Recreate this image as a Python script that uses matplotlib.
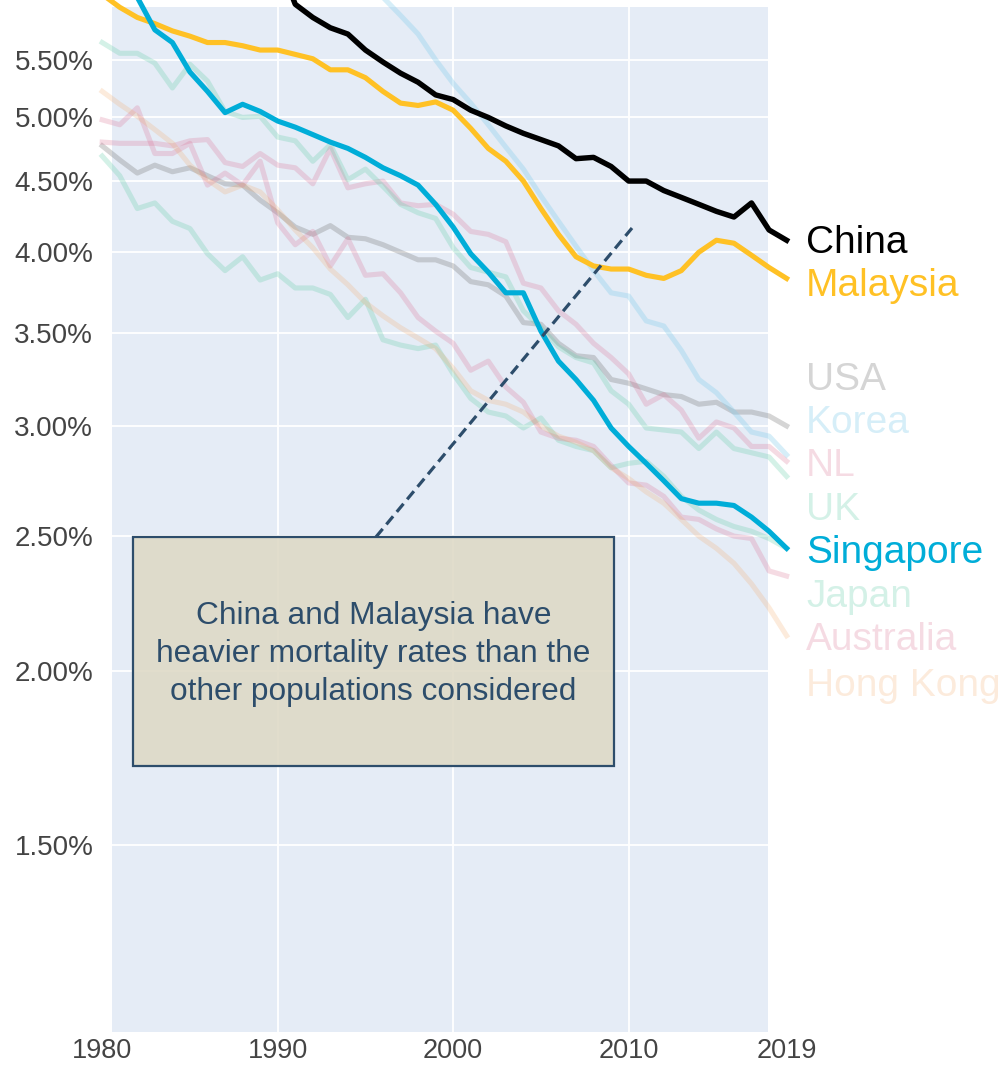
import matplotlib
matplotlib.use("Agg")
import matplotlib.pyplot as plt
from matplotlib.ticker import FixedLocator, NullLocator, NullFormatter, FixedFormatter
from matplotlib.patches import Rectangle

# ---------------- data (mortality rate, %) ----------------
years = list(range(1980, 2020))

china = [7.90, 7.75, 7.60, 7.45, 7.30, 7.20, 7.10, 6.95, 6.85, 6.70,
         6.50, 6.03, 5.90, 5.80, 5.74, 5.59, 5.48, 5.38, 5.30, 5.19,
         5.15, 5.06, 5.00, 4.93, 4.87, 4.82, 4.77, 4.67, 4.68, 4.61,
         4.50, 4.50, 4.43, 4.38, 4.33, 4.28, 4.24, 4.34, 4.15, 4.08]

malaysia = [6.13, 6.00, 5.90, 5.84, 5.77, 5.72, 5.66, 5.66, 5.63, 5.59,
            5.59, 5.55, 5.51, 5.41, 5.41, 5.34, 5.22, 5.12, 5.10, 5.13,
            5.06, 4.91, 4.75, 4.65, 4.50, 4.30, 4.12, 3.97, 3.91, 3.89,
            3.89, 3.85, 3.83, 3.88, 4.00, 4.08, 4.06, 3.98, 3.90, 3.83]

usa = [4.77, 4.66, 4.56, 4.62, 4.57, 4.60, 4.54, 4.48, 4.47, 4.36,
       4.27, 4.17, 4.12, 4.18, 4.10, 4.09, 4.05, 4.00, 3.95, 3.95,
       3.91, 3.81, 3.79, 3.72, 3.56, 3.55, 3.44, 3.37, 3.36, 3.24,
       3.22, 3.19, 3.16, 3.15, 3.11, 3.12, 3.07, 3.07, 3.05, 3.00]

korea = [9.50, 9.30, 9.10, 8.90, 8.70, 8.50, 8.30, 8.10, 7.90, 7.70,
         7.50, 7.30, 7.10, 6.90, 6.70, 6.45, 6.10, 5.92, 5.74, 5.50,
         5.29, 5.12, 4.94, 4.76, 4.59, 4.39, 4.21, 4.04, 3.88, 3.74,
         3.72, 3.57, 3.54, 3.40, 3.24, 3.17, 3.07, 2.97, 2.95, 2.86]

nl = [4.80, 4.79, 4.79, 4.79, 4.77, 4.81, 4.82, 4.64, 4.61, 4.71,
      4.62, 4.60, 4.48, 4.75, 4.45, 4.48, 4.50, 4.34, 4.32, 4.33,
      4.26, 4.14, 4.12, 4.07, 3.80, 3.77, 3.63, 3.55, 3.44, 3.36,
      3.27, 3.11, 3.16, 3.08, 2.94, 3.02, 2.99, 2.90, 2.90, 2.83]

uk = [5.66, 5.56, 5.56, 5.47, 5.25, 5.46, 5.31, 5.05, 5.00, 5.01,
      4.84, 4.81, 4.65, 4.78, 4.51, 4.59, 4.46, 4.33, 4.27, 4.23,
      4.03, 3.90, 3.87, 3.84, 3.63, 3.53, 3.42, 3.36, 3.33, 3.18,
      3.11, 2.99, 2.98, 2.97, 2.89, 2.97, 2.89, 2.87, 2.85, 2.76]

singapore = [6.90, 6.50, 6.10, 5.78, 5.66, 5.39, 5.22, 5.04, 5.11, 5.05,
             4.97, 4.92, 4.86, 4.80, 4.75, 4.68, 4.60, 4.54, 4.47, 4.33,
             4.17, 3.99, 3.87, 3.74, 3.74, 3.51, 3.34, 3.24, 3.13, 2.99,
             2.90, 2.82, 2.74, 2.66, 2.64, 2.64, 2.63, 2.58, 2.52, 2.45]

japan = [4.69, 4.54, 4.30, 4.34, 4.21, 4.16, 3.99, 3.88, 3.97, 3.82,
         3.86, 3.77, 3.77, 3.73, 3.59, 3.70, 3.46, 3.43, 3.41, 3.43,
         3.27, 3.14, 3.07, 3.05, 2.99, 3.04, 2.93, 2.90, 2.88, 2.80,
         2.82, 2.83, 2.76, 2.67, 2.61, 2.57, 2.54, 2.52, 2.49, 2.45]

australia = [4.98, 4.94, 5.08, 4.71, 4.71, 4.79, 4.47, 4.56, 4.47, 4.65,
             4.20, 4.05, 4.14, 3.91, 4.09, 3.85, 3.86, 3.74, 3.59, 3.51,
             3.44, 3.29, 3.34, 3.20, 3.12, 2.97, 2.94, 2.93, 2.90, 2.81,
             2.73, 2.72, 2.67, 2.58, 2.57, 2.53, 2.50, 2.49, 2.36, 2.34]

hong_kong = [5.22, 5.11, 5.01, 4.90, 4.79, 4.62, 4.51, 4.42, 4.47, 4.42,
             4.29, 4.15, 4.03, 3.89, 3.79, 3.68, 3.60, 3.53, 3.47, 3.41,
             3.30, 3.18, 3.13, 3.11, 3.07, 3.00, 2.95, 2.92, 2.88, 2.80,
             2.75, 2.69, 2.64, 2.57, 2.50, 2.45, 2.39, 2.31, 2.22, 2.12]

ytick_vals = [1.5, 2.0, 2.5, 3.0, 3.5, 4.0, 4.5, 5.0, 5.5]
ytick_labels = ["1.50%", "2.00%", "2.50%", "3.00%", "3.50%",
                "4.00%", "4.50%", "5.00%", "5.50%"]
xtick_years = [1980, 1990, 2000, 2010, 2019]
xgrid_years = [1990, 2000, 2010]

annotation = ("China and Malaysia have\nheavier mortality rates than the\n"
              "other populations considered")

# ---------------- styling ----------------
plt.rcParams['font.family'] = ['Liberation Sans', 'DejaVu Sans']

W, H = 1005, 1071
fig = plt.figure(figsize=(W / 100, H / 100), dpi=100)
ax_l, ax_r, ax_t, ax_b = 112, 768, 7.3, 1032
ax = fig.add_axes([ax_l / W, 1 - ax_b / H, (ax_r - ax_l) / W, (ax_b - ax_t) / H])
ax.set_facecolor('#E5ECF6')
ax.set_yscale('log')
ax.set_xlim(1980.558, 2017.94)
ax.set_ylim(1.1, 6.0)
for s in ax.spines.values():
    s.set_visible(False)

ax.yaxis.set_major_locator(FixedLocator(ytick_vals))
ax.yaxis.set_major_formatter(FixedFormatter(ytick_labels))
ax.yaxis.set_minor_locator(NullLocator())
ax.yaxis.set_minor_formatter(NullFormatter())
ax.xaxis.set_major_locator(FixedLocator(xgrid_years))
ax.xaxis.set_major_formatter(NullFormatter())
ax.tick_params(length=0)
ax.tick_params(axis='y', labelsize=20, labelcolor='#444444', pad=13.5)
ax.grid(True, color='white', linewidth=1.3)
ax.set_axisbelow(True)

for yr in xtick_years:
    ax.text(yr, -0.006, str(yr), transform=ax.get_xaxis_transform(),
            ha='center', va='top', fontsize=19.5, color='#444444', clip_on=False)

# series: (name, values, color, alpha, label y px)
faded = [
    ("USA", usa, '#808080', 0.33, 380),
    ("Korea", korea, '#87CEEB', 0.34, 423),
    ("NL", nl, '#DB7093', 0.25, 466),
    ("UK", uk, '#66CDAA', 0.28, 510),
    ("Japan", japan, '#66CDAA', 0.28, 597),
    ("Australia", australia, '#DB7093', 0.25, 640),
    ("Hong Kong", hong_kong, '#F4A460', 0.22, 686),
]
for name, vals, col, a, ly in faded:
    ax.plot(years, vals, color=col, alpha=a, lw=3.7, clip_on=False, zorder=2)
    fig.text(806 / W, 1 - ly / H, name, color=col, alpha=a, fontsize=28,
             ha='left', va='center')

bold = [
    ("Malaysia", malaysia, '#FFC125', 3.7, 286),
    ("Singapore", singapore, '#00ADD8', 3.7, 553),
    ("China", china, '#000000', 3.9, 243),
]
for name, vals, col, lw, ly in bold:
    ax.plot(years, vals, color=col, lw=lw, clip_on=False, zorder=3)
    fig.text(806 / W, 1 - ly / H, name, color=col, fontsize=28,
             ha='left', va='center')

# annotation box + dashed pointer
box_col = '#2D4D6B'
ax.add_patch(Rectangle((0.032, 0.2596), 0.733, 0.2235, transform=ax.transAxes,
                       facecolor=(222 / 255, 217 / 255, 197 / 255, 0.88),
                       edgecolor=box_col, linewidth=1.6, zorder=5))
ax.plot([0.4024, 0.7927], [0.4831, 0.7846], transform=ax.transAxes,
        color=box_col, lw=2.3, ls=(0, (3.3, 1.8)), zorder=6)
ax.text(0.3986, 0.3690, annotation, transform=ax.transAxes, ha='center',
        va='center', fontsize=22.8, color=box_col, linespacing=1.36, zorder=7)

fig.savefig('out.png', dpi=100)
